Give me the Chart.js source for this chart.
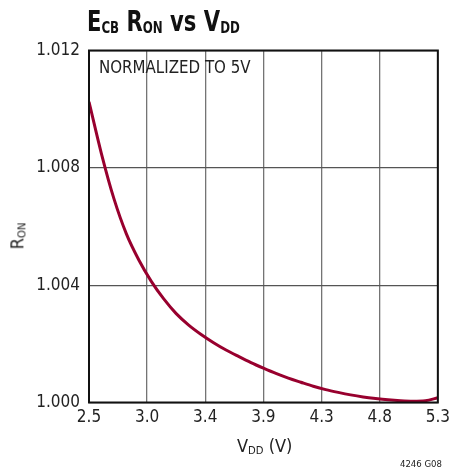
<!DOCTYPE html>
<html>
<head>
<meta charset="utf-8">
<script src="https://cdn.jsdelivr.net/npm/chart.js@4"></script>
<style>
  html, body { margin: 0; padding: 0; background: #fff; }
  body { width: 455px; height: 471px; position: relative; overflow: hidden;
         font-family: "Liberation Sans Narrow", "DejaVu Sans Condensed", Arial, sans-serif; color: #222; }
  #wrap { position: absolute; left: 0; top: 0; width: 455px; height: 471px; }
  .lbl { position: absolute; white-space: nowrap; line-height: 1; transform-origin: 0 0; }
  .lbl sub { font-size: 0.62em; vertical-align: -0.18em; }
  #title { left: 87px; top: 7px; font-size: 29px; font-weight: bold; color: #111; transform: scaleX(0.81); }
  #title sub { font-size: 0.56em; vertical-align: -0.14em; }
  #note { left: 99px; top: 58px; font-size: 18px; transform: scaleX(0.93); }
  #xtitle { left: 237px; top: 437px; font-size: 18px; }
  #ytitle { left: 18px; top: 236px; font-size: 18px; transform-origin: 50% 50%; transform: translate(-50%, -50%) rotate(-90deg); }
  #code { left: 400px; top: 459px; font-size: 9.5px; }
</style>
</head>
<body>
<div id="wrap"><canvas id="myChart" width="455" height="471"></canvas></div>
<div class="lbl" id="title">E<sub>CB</sub> R<sub>ON</sub> vs V<sub>DD</sub></div>
<div class="lbl" id="note">NORMALIZED TO 5V</div>
<div class="lbl" id="xtitle">V<sub>DD</sub> (V)</div>
<div class="lbl" id="ytitle">R<sub>ON</sub></div>
<div class="lbl" id="code">4246 G08</div>
<script>
// supply voltage (V) and normalized on-resistance
const vdd = [2.5, 2.6, 2.7, 2.8, 2.9, 3.0, 3.1, 3.2, 3.3, 3.4, 3.5, 3.6, 3.7, 3.8, 3.9,
             4.0, 4.1, 4.2, 4.3, 4.4, 4.5, 4.6, 4.7, 4.8, 4.9, 5.0, 5.1, 5.2, 5.3];
const ron = [1.01025, 1.00848, 1.00695, 1.00575, 1.00486, 1.00413, 1.00353, 1.00303, 1.00264,
             1.00232, 1.00204, 1.00179, 1.00157, 1.00136, 1.00117, 1.00099, 1.00083, 1.00069,
             1.000555, 1.00044, 1.000345, 1.00026, 1.00019, 1.000135, 1.00009, 1.00006,
             1.000045, 1.00006, 1.00016];

const xTickLabels = ['2.5', '3.0', '3.4', '3.9', '4.3', '4.8', '5.3'];
const yTickLabels = ['1.000', '1.004', '1.008', '1.012'];
const xMin = 2.5, xMax = 5.3;
const yMin = 1.000, yMax = 1.012;

const tickFont = { family: '"Liberation Sans Narrow", "DejaVu Sans Condensed", Arial, sans-serif', size: 17 };

const frame = {
    id: 'frame',
    afterDraw(chart) {
        const a = chart.chartArea, c = chart.ctx;
        c.save();
        c.strokeStyle = '#111';
        c.lineWidth = 2;
        c.strokeRect(a.left, a.top, a.right - a.left, a.bottom - a.top);
        c.restore();
    }
};

const ctx = document.getElementById('myChart').getContext('2d');
new Chart(ctx, {
    type: 'line',
    data: {
        datasets: [{
            data: vdd.map((v, i) => ({ x: v, y: ron[i] })),
            borderColor: '#98002e',
            borderWidth: 3,
            pointRadius: 0,
            cubicInterpolationMode: 'monotone',
            fill: false
        }]
    },
    options: {
        responsive: false,
        animation: false,
        layout: { padding: { top: 50.5, right: 14, left: 0, bottom: 0 } },
        scales: {
            x: {
                type: 'linear',
                min: xMin,
                max: xMax,
                afterBuildTicks: scale => {
                    scale.ticks = xTickLabels.map((l, i) => ({ value: xMin + i * (xMax - xMin) / (xTickLabels.length - 1) }));
                },
                afterFit: scale => { scale.height = 471 - 402.5; },
                ticks: {
                    callback: (v, i) => xTickLabels[i],
                    font: tickFont,
                    color: '#222',
                    padding: 5,
                    maxRotation: 0
                },
                grid: { color: '#747474', lineWidth: 1.3, drawTicks: false },
                border: { display: false }
            },
            y: {
                min: yMin,
                max: yMax,
                afterBuildTicks: scale => {
                    scale.ticks = yTickLabels.map(l => ({ value: parseFloat(l) }));
                },
                afterFit: scale => { scale.width = 89; },
                ticks: {
                    callback: (v, i) => yTickLabels[i],
                    font: tickFont,
                    color: '#222',
                    padding: 9
                },
                grid: { color: '#555', lineWidth: 1.3, drawTicks: false },
                border: { display: false }
            }
        },
        plugins: {
            legend: { display: false },
            tooltip: { enabled: false }
        }
    },
    plugins: [frame]
});
</script>
</body>
</html>
